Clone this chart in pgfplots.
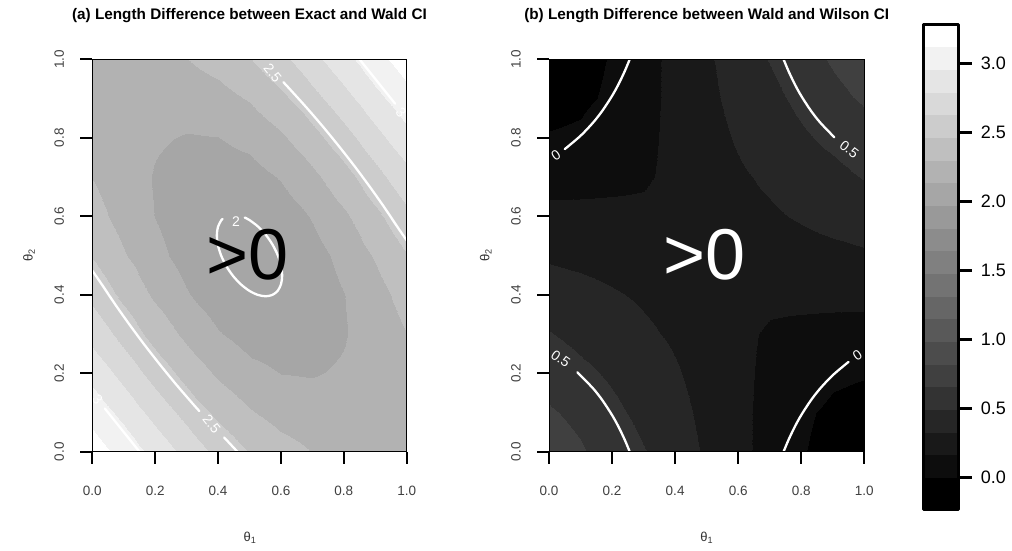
\documentclass[border=0pt]{standalone}
\usepackage{fontspec}
\setmainfont{Liberation Sans}
\usepackage{pgfplots}
\pgfplotsset{compat=1.18}
\usepgfplotslibrary{patchplots}

\tikzset{clab/.style={text=white, font=\fontsize{14}{16}\selectfont, inner sep=0pt}}
\pgfplotsset{
  colormap={bands}{gray(0pt)=(0) gray(229pt)=(0.05) gray(393.15pt)=(0.1) gray(557.3pt)=(0.15) gray(721.45pt)=(0.2) gray(885.6pt)=(0.25) gray(1049.75pt)=(0.3) gray(1213.9pt)=(0.35) gray(1378.05pt)=(0.4) gray(1542.2pt)=(0.45) gray(1706.35pt)=(0.5) gray(1870.5pt)=(0.55) gray(2034.65pt)=(0.6) gray(2198.8pt)=(0.65) gray(2362.95pt)=(0.7) gray(2527.1pt)=(0.75) gray(2691.25pt)=(0.8) gray(2855.4pt)=(0.85) gray(3019.55pt)=(0.9) gray(3183.7pt)=(0.95) gray(3347.85pt)=(1) gray(3512pt)=(1)},
  panel/.style={
    scale only axis, height=392.4pt,
    xmin=0, xmax=1, ymin=0, ymax=1,
    axis on top,
    point meta min=-0.229, point meta max=3.283,
    colormap name=bands, colormap access=piecewise constant,
    xtick={0,0.2,0.4,0.6,0.8,1}, ytick={0,0.2,0.4,0.6,0.8,1},
    xticklabels={0.0,0.2,0.4,0.6,0.8,1.0}, yticklabels={0.0,0.2,0.4,0.6,0.8,1.0},
    tick align=outside, tick pos=left,
    major tick length=12pt,
    tick style={line width=2.3pt, black},
    axis line style={line width=1pt},
    ticklabel style={font=\fontsize{13.5}{15}\selectfont, text=black!75, inner sep=0pt},
    xticklabel style={anchor=north},
    yticklabel style={rotate=90, anchor=south},
    xticklabel shift=21.7pt, yticklabel shift=16pt,
  },
  cl/.style={white, line width=2.3pt, line cap=round, line join=round},
  fillstyle/.style={surf, shader=interp, patch type=bilinear, patch refines=2, patch to triangles, mesh/cols=11, point meta=explicit},
}

\begin{document}
\begin{tikzpicture}
\useasboundingbox (0,0) rectangle (1012pt,550pt);

% ---------------- panel (a)
\begin{axis}[panel, width=314.4pt, at={(92.3pt,98.3pt)}, anchor=south west]
\addplot[fillstyle] coordinates {
(0,0)[3.200] (0.1,0)[3.063] (0.2,0)[2.904] (0.3,0)[2.739] (0.4,0)[2.584] (0.5,0)[2.455] (0.6,0)[2.360] (0.7,0)[2.297] (0.8,0)[2.259] (0.9,0)[2.231] (1,0)[2.200]
(0,0.1)[3.063] (0.1,0.1)[2.903] (0.2,0.1)[2.733] (0.3,0.1)[2.567] (0.4,0.1)[2.423] (0.5,0.1)[2.311] (0.6,0.1)[2.238] (0.7,0.1)[2.204] (0.8,0.1)[2.200] (0.9,0.1)[2.213] (1,0.1)[2.231]
(0,0.2)[2.904] (0.1,0.2)[2.733] (0.2,0.2)[2.561] (0.3,0.2)[2.403] (0.4,0.2)[2.272] (0.5,0.2)[2.180] (0.6,0.2)[2.131] (0.7,0.2)[2.124] (0.8,0.2)[2.151] (0.9,0.2)[2.200] (1,0.2)[2.259]
(0,0.3)[2.739] (0.1,0.3)[2.567] (0.2,0.3)[2.403] (0.3,0.3)[2.258] (0.4,0.3)[2.145] (0.5,0.3)[2.074] (0.6,0.3)[2.049] (0.7,0.3)[2.069] (0.8,0.3)[2.124] (0.9,0.3)[2.204] (1,0.3)[2.297]
(0,0.4)[2.584] (0.1,0.4)[2.423] (0.2,0.4)[2.272] (0.3,0.4)[2.145] (0.4,0.4)[2.052] (0.5,0.4)[2.004] (0.6,0.4)[2.004] (0.7,0.4)[2.049] (0.8,0.4)[2.131] (0.9,0.4)[2.238] (1,0.4)[2.360]
(0,0.5)[2.455] (0.1,0.5)[2.311] (0.2,0.5)[2.180] (0.3,0.5)[2.074] (0.4,0.5)[2.004] (0.5,0.5)[1.980] (0.6,0.5)[2.004] (0.7,0.5)[2.074] (0.8,0.5)[2.180] (0.9,0.5)[2.311] (1,0.5)[2.455]
(0,0.6)[2.360] (0.1,0.6)[2.238] (0.2,0.6)[2.131] (0.3,0.6)[2.049] (0.4,0.6)[2.004] (0.5,0.6)[2.004] (0.6,0.6)[2.052] (0.7,0.6)[2.145] (0.8,0.6)[2.272] (0.9,0.6)[2.423] (1,0.6)[2.584]
(0,0.7)[2.297] (0.1,0.7)[2.204] (0.2,0.7)[2.124] (0.3,0.7)[2.069] (0.4,0.7)[2.049] (0.5,0.7)[2.074] (0.6,0.7)[2.145] (0.7,0.7)[2.258] (0.8,0.7)[2.403] (0.9,0.7)[2.567] (1,0.7)[2.739]
(0,0.8)[2.259] (0.1,0.8)[2.200] (0.2,0.8)[2.151] (0.3,0.8)[2.124] (0.4,0.8)[2.131] (0.5,0.8)[2.180] (0.6,0.8)[2.272] (0.7,0.8)[2.403] (0.8,0.8)[2.561] (0.9,0.8)[2.733] (1,0.8)[2.904]
(0,0.9)[2.231] (0.1,0.9)[2.213] (0.2,0.9)[2.200] (0.3,0.9)[2.204] (0.4,0.9)[2.238] (0.5,0.9)[2.311] (0.6,0.9)[2.423] (0.7,0.9)[2.567] (0.8,0.9)[2.733] (0.9,0.9)[2.903] (1,0.9)[3.063]
(0,1)[2.200] (0.1,1)[2.231] (0.2,1)[2.259] (0.3,1)[2.297] (0.4,1)[2.360] (0.5,1)[2.455] (0.6,1)[2.584] (0.7,1)[2.739] (0.8,1)[2.904] (0.9,1)[3.063] (1,1)[3.200]
};
% contour 2.5
\addplot[cl, smooth] coordinates {(0,0.4615) (0.02845,0.42845) (0.074,0.374) (0.12095,0.32095) (0.1691,0.2691) (0.21855,0.21855) (0.2691,0.1691) (0.32095,0.12095) (0.3405,0.1035)};
\addplot[cl] coordinates {(0.4192,0.0362) (0.42845,0.02845) (0.4615,0)};
\addplot[cl, smooth] coordinates {(1,0.5385) (0.97155,0.57155) (0.926,0.626) (0.87905,0.67905) (0.8309,0.7309) (0.78145,0.78145) (0.7309,0.8309) (0.67905,0.87905) (0.626,0.926) (0.608,0.9415)};
% contour 3
\addplot[cl] coordinates {(0.15,0) (0.04,0.11)};
\addplot[cl] coordinates {(0.85,1) (0.963,0.887)};
% contour 2
\addplot[cl, smooth] coordinates {(0.48495,0.59675) (0.5003,0.5901) (0.52718,0.57366) (0.5522,0.5522) (0.57366,0.52718) (0.5901,0.5003) (0.60041,0.47341) (0.60387,0.44833) (0.60025,0.42677) (0.5898,0.4102) (0.57323,0.39975) (0.55167,0.39613) (0.52659,0.39959) (0.4997,0.4099) (0.47282,0.42634) (0.4478,0.4478) (0.42634,0.47282) (0.4099,0.4997) (0.39959,0.52659) (0.39613,0.55167) (0.39975,0.57323) (0.4102,0.5898) (0.41406,0.59323)};
\node[clab, rotate=-51.3] at (axis cs:0.3795,0.0695) {2.5};
\node[clab, rotate=-51.3] at (axis cs:0.574,0.965) {2.5};
\node[clab, rotate=-51.3] at (axis cs:0.0165,0.1335) {3};
\node[clab, rotate=-51.3] at (axis cs:0.982,0.865) {3};
\node[clab] at (axis cs:0.457,0.586) {2};
\node[font=\fontsize{72}{80}\selectfont, inner sep=0pt] at (axis cs:0.493,0.503) {>0};
\end{axis}

% ---------------- panel (b)
\begin{axis}[panel, width=315.3pt, at={(549pt,98.3pt)}, anchor=south west]
\addplot[fillstyle] coordinates {
(0,0)[0.7725] (0.1,0)[0.678] (0.2,0)[0.5835] (0.3,0)[0.50] (0.4,0)[0.3945] (0.5,0)[0.31] (0.6,0)[0.2055] (0.7,0)[0.111] (0.8,0)[0.0165] (0.9,0)[-0.078] (1,0)[-0.1725]
(0,0.1)[0.678] (0.1,0.1)[0.6024] (0.2,0.1)[0.5268] (0.3,0.1)[0.4512] (0.4,0.1)[0.3756] (0.5,0.1)[0.29] (0.6,0.1)[0.20] (0.7,0.1)[0.12] (0.8,0.1)[0.037] (0.9,0.1)[-0.04] (1,0.1)[-0.078]
(0,0.2)[0.5835] (0.1,0.2)[0.5268] (0.2,0.2)[0.4701] (0.3,0.2)[0.4134] (0.4,0.2)[0.342] (0.5,0.2)[0.275] (0.6,0.2)[0.20] (0.7,0.2)[0.13] (0.8,0.2)[0.115] (0.9,0.2)[0.037] (1,0.2)[0.0165]
(0,0.3)[0.50] (0.1,0.3)[0.4512] (0.2,0.3)[0.4134] (0.3,0.3)[0.35] (0.4,0.3)[0.31] (0.5,0.3)[0.26] (0.6,0.3)[0.19] (0.7,0.3)[0.15] (0.8,0.3)[0.13] (0.9,0.3)[0.12] (1,0.3)[0.111]
(0,0.4)[0.3945] (0.1,0.4)[0.3756] (0.2,0.4)[0.342] (0.3,0.4)[0.31] (0.4,0.4)[0.29] (0.5,0.4)[0.25] (0.6,0.4)[0.22] (0.7,0.4)[0.19] (0.8,0.4)[0.20] (0.9,0.4)[0.20] (1,0.4)[0.2055]
(0,0.5)[0.31] (0.1,0.5)[0.29] (0.2,0.5)[0.275] (0.3,0.5)[0.26] (0.4,0.5)[0.25] (0.5,0.5)[0.25] (0.6,0.5)[0.25] (0.7,0.5)[0.26] (0.8,0.5)[0.275] (0.9,0.5)[0.29] (1,0.5)[0.31]
(0,0.6)[0.2055] (0.1,0.6)[0.20] (0.2,0.6)[0.20] (0.3,0.6)[0.19] (0.4,0.6)[0.22] (0.5,0.6)[0.25] (0.6,0.6)[0.29] (0.7,0.6)[0.31] (0.8,0.6)[0.342] (0.9,0.6)[0.3756] (1,0.6)[0.3945]
(0,0.7)[0.111] (0.1,0.7)[0.12] (0.2,0.7)[0.13] (0.3,0.7)[0.15] (0.4,0.7)[0.19] (0.5,0.7)[0.26] (0.6,0.7)[0.31] (0.7,0.7)[0.35] (0.8,0.7)[0.4134] (0.9,0.7)[0.4512] (1,0.7)[0.50]
(0,0.8)[0.0165] (0.1,0.8)[0.037] (0.2,0.8)[0.115] (0.3,0.8)[0.13] (0.4,0.8)[0.20] (0.5,0.8)[0.275] (0.6,0.8)[0.342] (0.7,0.8)[0.4134] (0.8,0.8)[0.4701] (0.9,0.8)[0.5268] (1,0.8)[0.5835]
(0,0.9)[-0.078] (0.1,0.9)[-0.04] (0.2,0.9)[0.037] (0.3,0.9)[0.12] (0.4,0.9)[0.20] (0.5,0.9)[0.29] (0.6,0.9)[0.3756] (0.7,0.9)[0.4512] (0.8,0.9)[0.5268] (0.9,0.9)[0.6024] (1,0.9)[0.678]
(0,1)[-0.1725] (0.1,1)[-0.078] (0.2,1)[0.0165] (0.3,1)[0.111] (0.4,1)[0.2055] (0.5,1)[0.31] (0.6,1)[0.3945] (0.7,1)[0.50] (0.8,1)[0.5835] (0.9,1)[0.678] (1,1)[0.7725]
};
\addplot[cl, smooth] coordinates {(0.256,1) (0.24,0.9692) (0.22,0.9357) (0.2,0.9067) (0.17,0.8697) (0.14,0.8389) (0.1,0.805) (0.05,0.7711)};
\addplot[cl, smooth] coordinates {(0.744,0) (0.76,0.0308) (0.78,0.0643) (0.8,0.0933) (0.83,0.1303) (0.86,0.1611) (0.9,0.195) (0.95,0.2289)};
\addplot[cl, smooth] coordinates {(0.744,1) (0.76,0.9692) (0.78,0.9357) (0.8,0.9067) (0.83,0.8697) (0.86,0.8389) (0.905,0.8012)};
\addplot[cl, smooth] coordinates {(0.256,0) (0.24,0.0308) (0.22,0.0643) (0.2,0.0933) (0.17,0.1303) (0.14,0.1611) (0.09,0.2024)};
\node[clab, rotate=34] at (axis cs:0.022,0.755) {0};
\node[clab, rotate=34] at (axis cs:0.978,0.245) {0};
\node[clab, rotate=-37.5] at (axis cs:0.952,0.771) {0.5};
\node[clab, rotate=-35] at (axis cs:0.037,0.237) {0.5};
\node[font=\fontsize{72}{80}\selectfont, text=white, inner sep=0pt] at (axis cs:0.493,0.503) {>0};
\end{axis}

% ---------------- colour key
\begin{axis}[scale only axis, at={(923.3pt,40.7pt)}, anchor=south west, width=35pt, height=485pt,
  xmin=0, xmax=1, ymin=-0.229, ymax=3.283, axis on top,
  point meta min=-0.229, point meta max=3.283,
  colormap name=bands, colormap access=piecewise constant,
  xtick=\empty, ytick={0,0.5,1,1.5,2,2.5,3}, yticklabels={0.0,0.5,1.0,1.5,2.0,2.5,3.0},
  ytick pos=right, yticklabel pos=right, tick align=outside, major tick length=13.4pt,
  tick style={line width=2.5pt, black}, axis line style={line width=2.5pt, line join=round},
  yticklabel style={font=\fontsize{18}{20}\selectfont, anchor=west, inner sep=0pt},
  yticklabel shift=9pt]
\addplot[surf, shader=interp, mesh/cols=2, point meta=explicit] coordinates {(0,-0.229)[-0.229] (1,-0.229)[-0.229] (0,3.283)[3.283] (1,3.283)[3.283]};
\end{axis}

% ---------------- titles and axis labels
\node[font=\bfseries\fontsize{15.3}{17}\selectfont] at (249.5pt,534.5pt) {(a) Length Difference between Exact and Wald CI};
\node[font=\bfseries\fontsize{15.3}{17}\selectfont] at (706.7pt,534.5pt) {(b) Length Difference between Wald and Wilson CI};
\node[font=\fontsize{13}{15}\selectfont, text=black!80] at (250pt,12pt) {θ\textsubscript{1}};
\node[font=\fontsize{13}{15}\selectfont, text=black!80] at (706.7pt,12pt) {θ\textsubscript{1}};
\node[font=\fontsize{13}{15}\selectfont, text=black!80, rotate=90] at (29pt,294.5pt) {θ\textsubscript{2}};
\node[font=\fontsize{13}{15}\selectfont, text=black!80, rotate=90] at (485.7pt,294.5pt) {θ\textsubscript{2}};
\end{tikzpicture}
\end{document}
